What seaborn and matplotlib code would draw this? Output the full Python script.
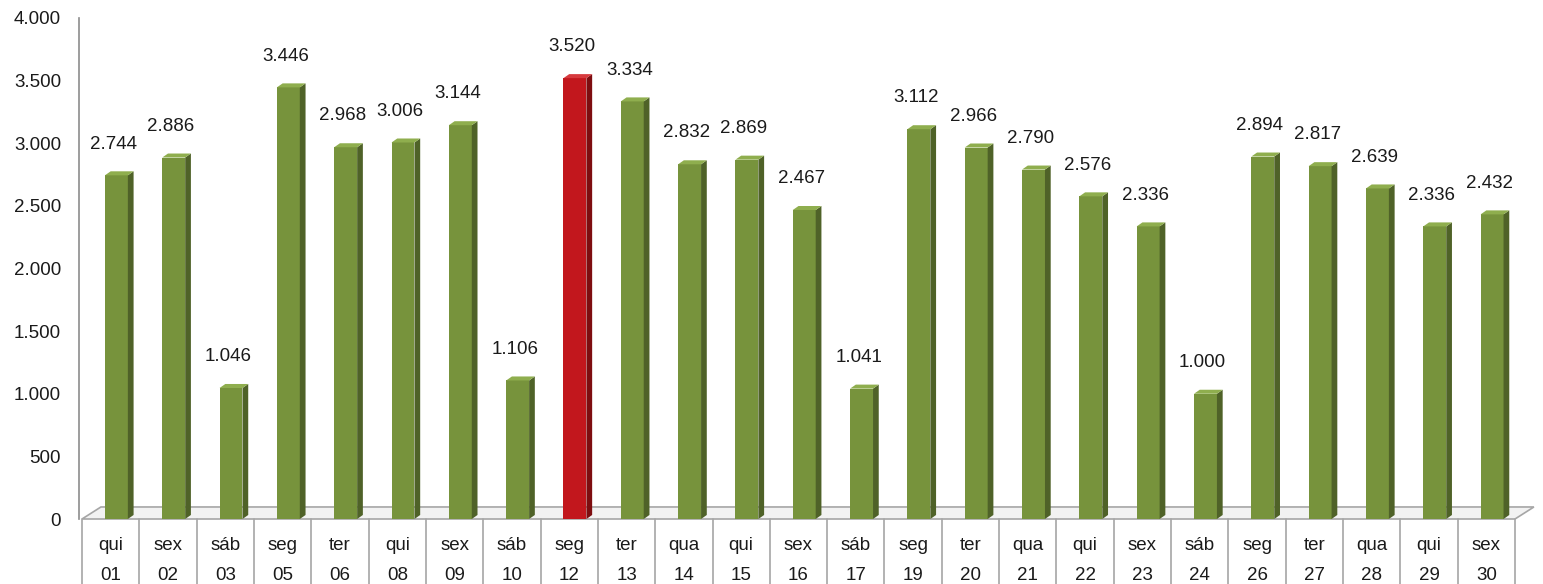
import matplotlib
matplotlib.use("Agg")
import matplotlib.pyplot as plt
from matplotlib.patches import Polygon
import seaborn as sns
import pandas as pd

weekdays = ["qui", "sex", "sáb", "seg", "ter", "qui", "sex", "sáb", "seg", "ter",
            "qua", "qui", "sex", "sáb", "seg", "ter", "qua", "qui", "sex", "sáb",
            "seg", "ter", "qua", "qui", "sex"]
day_numbers = ["01", "02", "03", "05", "06", "08", "09", "10", "12", "13",
               "14", "15", "16", "17", "19", "20", "21", "22", "23", "24",
               "26", "27", "28", "29", "30"]
values = [2744, 2886, 1046, 3446, 2968, 3006, 3144, 1106, 3520, 3334,
          2832, 2869, 2467, 1041, 3112, 2966, 2790, 2576, 2336, 1000,
          2894, 2817, 2639, 2336, 2432]

def fmt(v):
    return f"{v:,.0f}".replace(",", ".")

sns.set_theme(style="white")
plt.rcParams["font.family"] = ["Liberation Sans", "DejaVu Sans"]

W, H = 1543, 584
fig = plt.figure(figsize=(W / 100, H / 100), dpi=100)
ax_left, ax_right = 82, 1515
ax_top, ax_bottom = 18, 519
ax = fig.add_axes([ax_left / W, (H - ax_bottom) / H,
                   (ax_right - ax_left) / W, (ax_bottom - ax_top) / H])

labels = [f"{d}\n{n}" for d, n in zip(weekdays, day_numbers)]
peak = max(values)
df = pd.DataFrame({"label": labels, "value": values,
                   "kind": ["peak" if v == peak else "normal" for v in values]})

front = {"normal": "#77933C", "peak": "#C2171D"}
side = {"normal": "#4F6228", "peak": "#7E0D10"}
top = {"normal": "#8FAE4E", "peak": "#D63A3E"}

sns.barplot(data=df, x="label", y="value", hue="kind", palette=front,
            dodge=False, width=0.40, legend=False, ax=ax, zorder=3,
            linewidth=0, saturation=1)

ax.set_xlim(-0.6, 24.4)
ax.set_ylim(0, 4000)

# 3D effect on bars
sx, sy = 0.10, 32
kinds = df["kind"].tolist()
bars = sorted([p for p in ax.patches if p.get_height() > 0], key=lambda p: p.get_x())
for p, k in zip(bars, kinds):
    x0 = p.get_x()
    w = p.get_width()
    h = p.get_height()
    ax.add_patch(Polygon([(x0 + w, 0), (x0 + w + sx, sy), (x0 + w + sx, h + sy), (x0 + w, h)],
                         closed=True, facecolor=side[k], edgecolor="none", zorder=3))
    ax.add_patch(Polygon([(x0, h), (x0 + w, h), (x0 + w + sx, h + sy), (x0 + sx, h + sy)],
                         closed=True, facecolor=top[k], edgecolor="none", zorder=3))
    ax.text(x0 + w / 2 - 0.05, h + 250, fmt(h), ha="center", va="center",
            fontsize=13.5, color="#1A1A1A", zorder=4)

# floor
fdx, fdy = 0.33, 96
ax.add_patch(Polygon([(-0.6, 0), (24.4, 0), (24.4 + fdx, fdy), (-0.6 + fdx, fdy)],
                     closed=True, facecolor="#F2F2F2", edgecolor="#A6A6A6",
                     linewidth=1.2, zorder=1, clip_on=False))

# axis styling
sns.despine(ax=ax, left=False, bottom=True, top=True, right=True)
ax.spines["left"].set_color("#8C8C8C")
ax.spines["left"].set_linewidth(1.2)
ax.spines["left"].set_position(("outward", 2))
ax.set_yticks(range(0, 4001, 500))
ax.set_yticklabels([fmt(v) for v in range(0, 4001, 500)])
ax.tick_params(axis="y", direction="inout", length=6, width=1, color="#8C8C8C",
               labelsize=13.5, labelcolor="#1A1A1A", pad=10)
ax.set_xticks([])
ax.set_xlabel("")
ax.set_ylabel("")
ax.grid(False)

# category table below the axis
trans = ax.get_xaxis_transform()
table_bottom = -(H - ax_bottom) / (ax_bottom - ax_top)
for i in range(len(labels) + 1):
    xb = -0.6 + i
    ax.plot([xb, xb], [0, table_bottom], transform=trans, color="#A6A6A6",
            linewidth=1.2, clip_on=False, zorder=2)
for i, (d, n) in enumerate(zip(weekdays, day_numbers)):
    ax.text(i - 0.1, -27 / (ax_bottom - ax_top), d, transform=trans,
            ha="center", va="center", fontsize=13.5, color="#1A1A1A")
    ax.text(i - 0.1, -56 / (ax_bottom - ax_top), n, transform=trans,
            ha="center", va="center", fontsize=13.5, color="#1A1A1A")

fig.savefig("out.png", dpi=100, facecolor="white")
